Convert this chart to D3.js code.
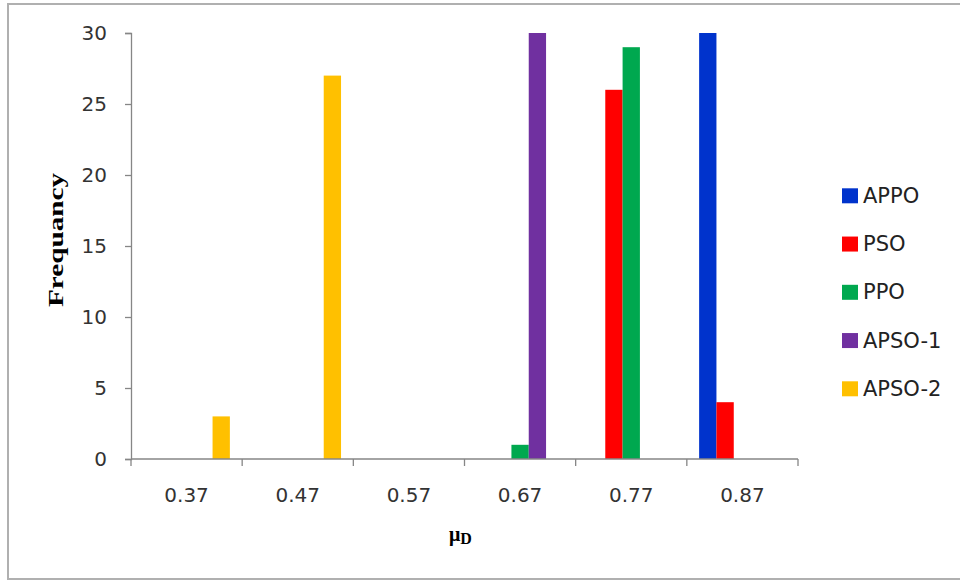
<!DOCTYPE html>
<html><head><meta charset="utf-8">
<script src="https://cdn.jsdelivr.net/npm/d3@7"></script>
<style>body{margin:0;background:#fff}svg{display:block}</style>
</head><body>
<svg id="chart" width="960" height="581"></svg>
<script>
const categories = ["0.37","0.47","0.57","0.67","0.77","0.87"];
const seriesNames = ["APPO","PSO","PPO","APSO-1","APSO-2"];
const APPO   = [0, 0, 0, 0, 0, 30];
const PSO    = [0, 0, 0, 0, 26, 4];
const PPO    = [0, 0, 0, 1, 29, 0];
const APSO1  = [0, 0, 0, 30, 0, 0];
const APSO2  = [3, 27, 0, 0, 0, 0];
const yTicks = [0,5,10,15,20,25,30];
const colors = ["#0033cc","#ff0000","#00a84f","#7030a0","#ffc000"];

(function(){
const seriesValues = [APPO, PSO, PPO, APSO1, APSO2];
const svg = d3.select("#chart");
const font = "DejaVu Sans, Verdana, sans-serif";

// outer border
svg.append("rect").attr("x",8).attr("y",4).attr("width",970).attr("height",575)
  .attr("fill","#fff").attr("stroke","#b0b0b0").attr("stroke-width",2);

const pL=131, pR=798, pT=33, pB=459;
const x0 = d3.scaleBand().domain(categories).range([pL,pR]).padding(0);
const x1 = d3.scaleBand().domain(seriesNames).range([0,x0.bandwidth()]).paddingInner(0).paddingOuter(0.71);
const y = d3.scaleLinear().domain([0,30]).range([pB,pT]);

// bars
const g = svg.append("g");
seriesNames.forEach((s,si)=>{
  g.selectAll(null).data(categories.map((c,i)=>({c, v:seriesValues[si][i]})).filter(d=>d.v>0))
   .enter().append("rect")
   .attr("x",d=>x0(d.c)+x1(s))
   .attr("width",x1.bandwidth())
   .attr("y",d=>y(d.v))
   .attr("height",d=>y(0)-y(d.v))
   .attr("fill",colors[si]);
});

const axisColor = "#868686";
// y axis
const yAxis = svg.append("g").attr("transform",`translate(${pL},0)`)
  .call(d3.axisLeft(y).tickValues(yTicks).tickSize(6).tickPadding(18));
yAxis.select(".domain").attr("stroke",axisColor).attr("stroke-width",1.3);
yAxis.selectAll(".tick line").attr("stroke",axisColor).attr("stroke-width",1.3);
yAxis.selectAll(".tick text").attr("font-family",font).attr("font-size",20).attr("fill","#333");

// x axis
const xAxisG = svg.append("g").attr("transform",`translate(0,${pB})`);
xAxisG.append("line").attr("x1",pL).attr("x2",pR).attr("y1",0).attr("y2",0)
  .attr("stroke",axisColor).attr("stroke-width",1.3);
const bounds = categories.map(c=>x0(c)).concat([x0(categories[categories.length-1])+x0.bandwidth()]);
xAxisG.selectAll("line.tk").data(bounds).enter().append("line").attr("class","tk")
  .attr("x1",d=>d).attr("x2",d=>d).attr("y1",0).attr("y2",7)
  .attr("stroke",axisColor).attr("stroke-width",1.3);
xAxisG.selectAll("text").data(categories).enter().append("text")
  .attr("x",d=>x0(d)+x0.bandwidth()/2).attr("y",43)
  .attr("text-anchor","middle")
  .attr("font-family",font).attr("font-size",20).attr("fill","#333")
  .text(d=>d);

// axis titles
svg.append("text").attr("transform","translate(63,240) rotate(-90)")
  .attr("text-anchor","middle").attr("font-family","Liberation Serif, serif")
  .attr("font-weight","bold").attr("font-size",22)
  .attr("textLength",134).attr("lengthAdjust","spacingAndGlyphs")
  .text("Frequancy");
const xt = svg.append("text").attr("x",449).attr("y",541)
  .attr("font-family","Liberation Serif, serif").attr("font-weight","bold").attr("font-size",20);
xt.append("tspan").text("μ");
xt.append("tspan").attr("dy",3).attr("font-size",16).text("D");

// legend
const leg = svg.append("g");
seriesNames.forEach((s,i)=>{
  const ly = 195.8 + i*48.25;
  leg.append("rect").attr("x",842).attr("y",ly-7.5).attr("width",16).attr("height",15).attr("fill",colors[i]);
  leg.append("text").attr("x",863).attr("y",ly+7)
    .attr("font-family",font).attr("font-size",21).attr("fill","#222")
    .text(s);
});
})();
</script>
</body></html>
